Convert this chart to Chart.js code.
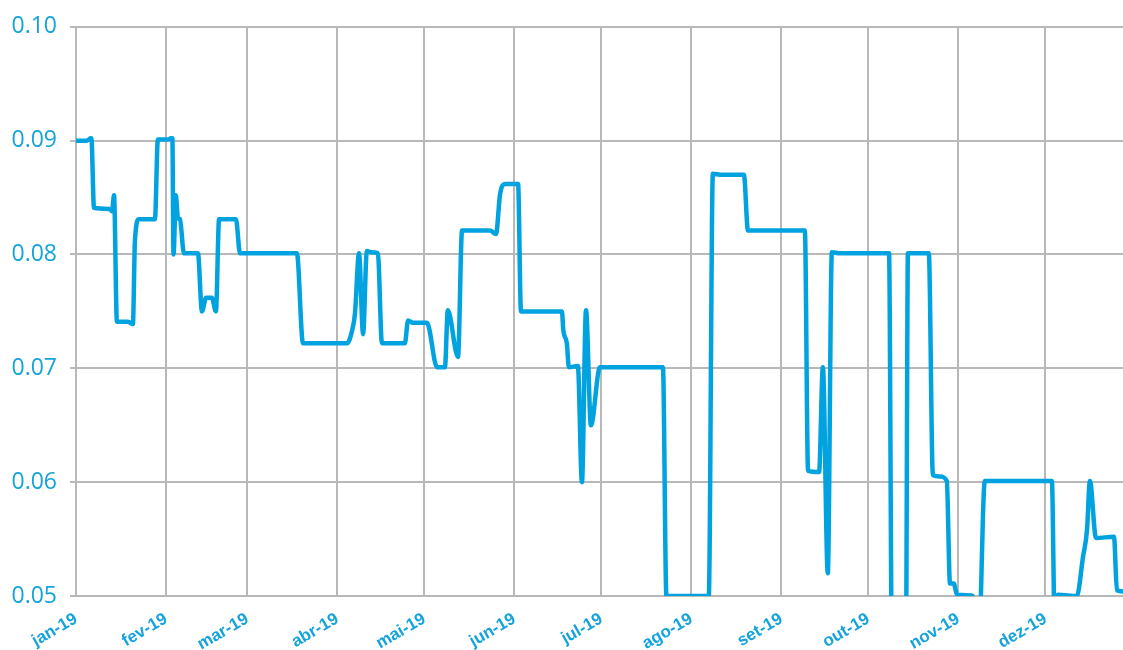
<!DOCTYPE html>
<html>
<head>
<meta charset="utf-8">
<script src="https://cdn.jsdelivr.net/npm/chart.js@4/dist/chart.umd.min.js"></script>
<style>
    html, body { margin: 0; padding: 0; background: #ffffff; }
    #wrap { width: 1123px; height: 650px; }
</style>
</head>
<body>
<div id="wrap"><canvas id="rateChart" width="1123" height="650"></canvas></div>
<script>
// month tick labels and the day-of-year each month starts on
const monthLabels = ['jan-19', 'fev-19', 'mar-19', 'abr-19', 'mai-19', 'jun-19',
                     'jul-19', 'ago-19', 'set-19', 'out-19', 'nov-19', 'dez-19'];
const monthStarts = [0, 31, 59, 90, 120, 151, 181, 212, 243, 273, 304, 334];

// y axis ticks
const yTicks = [0.05, 0.06, 0.07, 0.08, 0.09, 0.10];

// series: day of year (0 = 1 jan) and value
const days = [
    0, 3.8, 5.0, 5.3, 6.2, 11.7, 12.4, 13.1, 14.1, 17.9, 19.6, 20.3, 21.7,
    27.2, 28.2, 31.7, 32.7, 33.2, 33.6, 34.4, 35.1, 35.8, 37.2, 42.0, 43.4,
    44.8, 46.8, 48.2, 49.3, 55.1, 56.5, 76.1, 78.2, 93.4, 95.1, 96.1, 97.5,
    98.9, 100.2, 101.6, 104.0, 105.4, 113.3, 114.4, 116.1, 120.9, 124.4,
    127.1, 128.1, 131.6, 133.0, 142.6, 144.7, 146.1, 147.8, 152.3, 153.3,
    167.4, 167.9, 169.1, 169.8, 172.9, 174.3, 175.7, 177.4, 180.5, 202.2,
    203.4, 218.0, 219.4, 222.5, 230.1, 231.5, 251.1, 252.2, 256.0, 257.3,
    259.0, 260.4, 263.2, 280.1, 281.1, 285.9, 286.6, 293.8, 295.2, 297.6,
    300.0, 301.1, 302.4, 303.5, 309.0, 310.9, 313.1, 336.2, 337.2, 338.3,
    344.8, 346.9, 348.3, 349.3, 351.4, 357.6, 358.6, 360.7
];
const rates = [
    0.0900, 0.0900, 0.0902, 0.0902, 0.0841, 0.0840, 0.0838, 0.0852, 0.0741, 0.0741, 0.0739, 0.0812, 0.0831,
    0.0831, 0.0901, 0.0901, 0.0902, 0.0902, 0.0800, 0.0852, 0.0832, 0.0831, 0.0801, 0.0801, 0.0750,
    0.0762, 0.0762, 0.0750, 0.0831, 0.0831, 0.0801, 0.0801, 0.0722, 0.0722, 0.0733, 0.0748, 0.0801,
    0.0730, 0.0803, 0.0802, 0.0801, 0.0722, 0.0722, 0.0742, 0.0740, 0.0740, 0.0701,
    0.0701, 0.0751, 0.0710, 0.0821, 0.0821, 0.0818, 0.0853, 0.0862, 0.0862, 0.0750,
    0.0750, 0.0733, 0.0722, 0.0701, 0.0702, 0.0600, 0.0751, 0.0650, 0.0701, 0.0701,
    0.0500, 0.0500, 0.0871, 0.0870, 0.0870, 0.0821, 0.0821, 0.0610, 0.0609, 0.0701,
    0.0520, 0.0802, 0.0801, 0.0801, 0.0450, 0.0450, 0.0801, 0.0801, 0.0606, 0.0605,
    0.0601, 0.0511, 0.0511, 0.0501, 0.0500, 0.0450, 0.0601, 0.0601, 0.0470, 0.0501,
    0.0500, 0.0534, 0.0558, 0.0601, 0.0551, 0.0552, 0.0505, 0.0504
];

const blue = '#00a3e0';
const labelBlue = '#14a3db';
const gridGrey = '#b8b8b8';

const ctx = document.getElementById('rateChart').getContext('2d');
new Chart(ctx, {
    type: 'line',
    data: {
        datasets: [{
            data: days.map((d, i) => ({ x: d, y: rates[i] })),
            borderColor: blue,
            borderWidth: 4.5,
            pointRadius: 0,
            fill: false,
            cubicInterpolationMode: 'monotone'
        }]
    },
    options: {
        responsive: false,
        animation: false,
        layout: { padding: { top: 25, right: 0, bottom: 0, left: 0 } },
        plugins: {
            legend: { display: false },
            tooltip: { enabled: false }
        },
        scales: {
            x: {
                type: 'linear',
                min: 0,
                max: 360.7,
                afterBuildTicks: function(axis) {
                    axis.ticks = monthStarts.map(v => ({ value: v }));
                },
                afterFit: function(axis) { axis.height = 54; },
                border: { display: false },
                grid: { color: gridGrey, lineWidth: 2, drawTicks: false },
                ticks: {
                    autoSkip: false,
                    minRotation: 30,
                    maxRotation: 30,
                    padding: 13,
                    color: labelBlue,
                    font: { family: '"Liberation Sans", Arial, sans-serif', size: 17, weight: 'bold' },
                    callback: function(v) {
                        const i = monthStarts.indexOf(v);
                        return i >= 0 ? monthLabels[i] : '';
                    }
                }
            },
            y: {
                min: 0.05,
                max: 0.10,
                afterBuildTicks: function(axis) {
                    axis.ticks = yTicks.map(v => ({ value: v }));
                },
                afterFit: function(axis) { axis.width = 76; },
                border: { display: false },
                grid: { color: gridGrey, lineWidth: 2, tickLength: 6 },
                ticks: {
                    padding: 13,
                    color: labelBlue,
                    font: { family: '"Open Sans", sans-serif', size: 23 },
                    callback: function(v) { return v.toFixed(2); }
                }
            }
        }
    }
});
</script>
</body>
</html>
